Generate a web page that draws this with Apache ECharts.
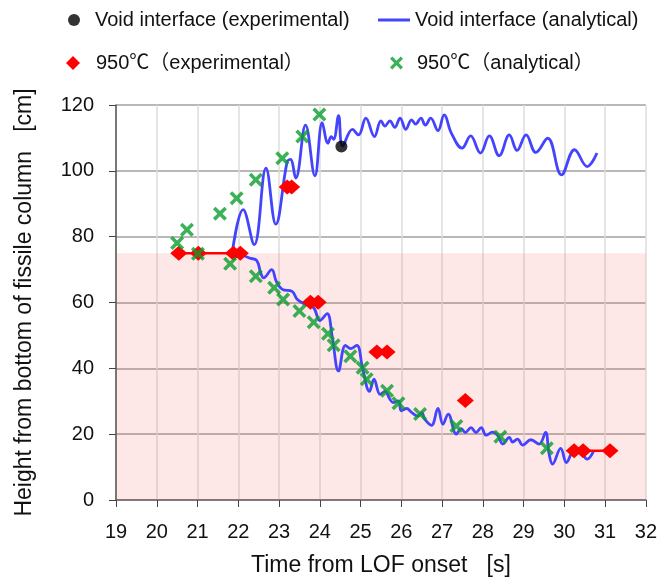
<!DOCTYPE html>
<html><head><meta charset="utf-8">
<script src="https://cdn.jsdelivr.net/npm/echarts@6/dist/echarts.min.js"></script>
<style>html,body{margin:0;padding:0;background:#fff}#c{width:660px;height:582px}</style>
</head><body><div id="c"></div>
<script>
// ---- data (time [s], height [cm]) ----
const voidExp = [[24.53, 107.4]];
const voidAnaUpper = [[21.85,75],[22.12,88.2],[22.39,77.6],[22.68,100.8],[22.92,83.8],[23.2,102.8],[23.28,103.5],[23.41,97.8],[23.65,113.9],[23.88,98.5],[24.06,114.6],[24.2,108.4],[24.28,110.4],[24.34,109.6],[24.46,116.8],[24.56,107.5],[24.8,112.6],[24.95,110.9],[25.13,116],[25.34,110.4],[25.5,115.2],[25.6,113.6],[25.72,115.2],[25.84,113.2],[25.97,116],[26.11,112.6],[26.25,115.5],[26.35,114.2],[26.48,116],[26.59,113.9],[26.72,116],[26.9,112.2],[27.05,117],[27.23,111.4],[27.49,106.9],[27.7,110.6],[27.94,105.4],[28.16,110.6],[28.4,104.6],[28.65,110.9],[28.84,106.2],[29.06,110.9],[29.3,105.6],[29.59,109.9],[29.93,98.8],[30.25,106.4],[30.56,101.3],[30.8,105.4]];
const voidAnaLower = [[22.02,75],[22.27,73.5],[22.45,72.8],[22.55,69],[22.62,67.5],[22.82,70],[22.93,66.5],[23.08,64],[23.32,63.4],[23.45,60.9],[23.65,59.4],[23.85,58.4],[24.0,54.5],[24.18,56.6],[24.3,50],[24.46,39.2],[24.63,47],[24.76,46],[24.91,47],[25.05,40],[25.22,33],[25.33,36.7],[25.48,32.1],[25.6,33],[25.72,30.6],[25.8,29.6],[25.93,30.1],[26.0,27.1],[26.13,27.8],[26.25,26.6],[26.41,25.5],[26.5,26.5],[26.58,24.5],[26.74,22.7],[26.9,27.8],[27.02,23],[27.15,26.1],[27.35,20],[27.47,21.7],[27.57,20.5],[27.71,22],[27.83,20.5],[27.96,22],[28.08,19.7],[28.24,20.6],[28.37,19.5],[28.49,17],[28.65,19],[28.73,17.6],[28.85,18.5],[28.98,16.7],[29.18,18.3],[29.38,17],[29.54,20.5],[29.62,14.4],[29.71,10.9],[29.91,15.7],[30.05,11.4],[30.2,14.6],[30.35,15.5],[30.56,12.4],[30.72,14.9]];
const exp950 = [[20.54,75],[21.02,75],[21.88,75],[22.05,75],null,[23.2,95.1],[23.31,95.1],null,[23.77,60.1],[23.96,60.1],null,[25.4,45],[25.65,45],null,[27.57,30.2],null,[30.24,15],[30.46,15],[31.12,15]];
const ana950 = [[20.50,78.1],[20.74,82.1],[21.01,74.8],[21.55,87.0],[21.80,71.8],[21.96,91.7],[22.43,97.3],[22.43,68.0],[22.88,64.5],[23.08,103.8],[23.1,60.9],[23.5,57.4],[23.57,110.4],[23.85,54.0],[23.99,117.1],[24.2,50.5],[24.34,47.0],[24.75,43.7],[25.05,40.2],[25.15,36.7],[25.65,33.2],[25.93,29.4],[26.46,26.1],[27.35,22.5],[28.43,19.2],[29.57,15.7]];
const bandRange = [0, 75];
const xRange = [19, 32, 1];
const yRange = [0, 120, 20];
const names = ['Void interface (experimental)', 'Void interface (analytical)', '950℃（experimental）', '950℃（analytical）'];
const xTitle = 'Time from LOF onset   [s]';
const yTitle = 'Height from bottom of fissile column   [cm]';

const FONT = '"Liberation Sans", "Noto Sans CJK JP", sans-serif';
const crossPath = 'path://M0,1.8 L1.8,0 L5,3.2 L8.2,0 L10,1.8 L6.8,5 L10,8.2 L8.2,10 L5,6.8 L1.8,10 L0,8.2 L3.2,5 Z';
const linePath = 'path://M0,0 L32,0 L32,3 L0,3 Z';
const green = '#0a9e2e';
const blue = '#4444ff';
const red = '#ff0000';

const chart = echarts.init(document.getElementById('c'));
const legTxt = (pad) => ({fontSize: 20, color: '#111', fontFamily: FONT, padding: [0, 0, 0, pad]});
chart.setOption({
  animation: false,
  grid: {left: 116, right: 10, top: 105, bottom: 81},
  legend: [
    {data: [{name: names[0], icon: 'circle'}], left: 63, top: 5, itemWidth: 12, itemHeight: 12, textStyle: legTxt(10)},
    {data: [{name: names[1], icon: linePath}], left: 373, top: 5, itemWidth: 32, itemHeight: 3, textStyle: legTxt(0)},
    {data: [{name: names[2], icon: 'diamond'}], left: 61, top: 48, itemWidth: 14, itemHeight: 14, textStyle: legTxt(11)},
    {data: [{name: names[3], icon: crossPath}], left: 385, top: 48, itemWidth: 13, itemHeight: 13, textStyle: legTxt(9)}
  ],
  xAxis: {
    type: 'value', min: xRange[0], max: xRange[1], interval: xRange[2],
    name: xTitle, nameLocation: 'middle', nameGap: 54,
    nameTextStyle: {fontSize: 23, color: '#111', fontFamily: FONT},
    axisLine: {onZero: false, lineStyle: {color: '#666', width: 1.5}},
    axisTick: {show: true, length: 7, lineStyle: {color: '#444'}},
    axisLabel: {fontSize: 20, color: '#111', margin: 22, fontFamily: FONT},
    splitLine: {show: true, lineStyle: {color: '#dcdcdc', width: 1.5}}
  },
  yAxis: {
    type: 'value', min: yRange[0], max: yRange[1], interval: yRange[2],
    name: yTitle, nameLocation: 'middle', nameGap: 80,
    nameTextStyle: {fontSize: 23, color: '#111', fontFamily: FONT},
    axisLine: {show: true, lineStyle: {color: '#555', width: 1.5}},
    axisTick: {show: true, length: 7, lineStyle: {color: '#444'}},
    axisLabel: {fontSize: 20, color: '#111', margin: 22, fontFamily: FONT},
    splitLine: {show: true, lineStyle: {color: '#a0a0a0', width: 1.5}}
  },
  series: [
    {
      name: names[1], type: 'line', data: voidAnaUpper, smooth: 0.4, symbol: 'none',
      lineStyle: {color: blue, width: 2.8}, itemStyle: {color: blue}, z: 3,
      markArea: {silent: true, itemStyle: {color: 'rgba(250,60,60,0.12)'}, data: [[{yAxis: bandRange[0]}, {yAxis: bandRange[1]}]]}
    },
    {
      name: names[1], type: 'line', data: voidAnaLower, smooth: 0.4, symbol: 'none',
      lineStyle: {color: blue, width: 2.8}, itemStyle: {color: blue}, z: 3
    },
    {
      name: names[2], type: 'line', data: exp950, connectNulls: false, symbol: 'diamond', symbolSize: [17, 15],
      showAllSymbol: true,
      lineStyle: {color: red, width: 2.5}, itemStyle: {color: red}, z: 4
    },
    {
      name: names[3], type: 'scatter', data: ana950, symbol: crossPath, symbolSize: 14,
      itemStyle: {color: green}, z: 5
    },
    {
      name: names[0], type: 'scatter', data: voidExp, symbol: 'circle', symbolSize: 12,
      itemStyle: {color: '#000'}, z: 6
    }
  ]
});
</script></body></html>
